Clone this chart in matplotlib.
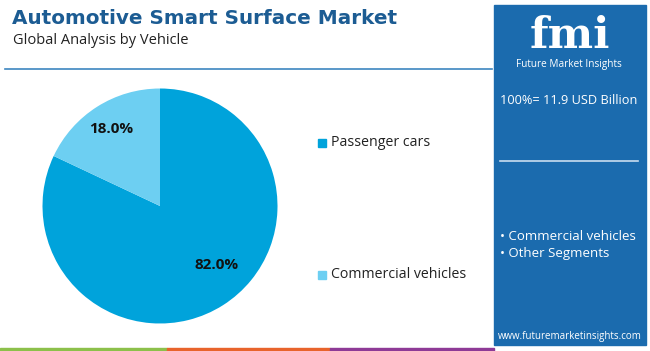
import matplotlib
matplotlib.use("Agg")
import matplotlib.pyplot as plt
from matplotlib.patches import Rectangle

# data
segments = ["Passenger cars", "Commercial vehicles"]
shares = [82.0, 18.0]
colors = ["#00A3DB", "#6DCFF2"]
title = "Automotive Smart Surface Market"
subtitle = "Global Analysis by Vehicle"
total_text = "100%= 11.9 USD Billion"
other_items = ["Commercial vehicles", "Other Segments"]

W, H = 650, 351
fig = plt.figure(figsize=(W / 100, H / 100), dpi=100)
fig.patch.set_facecolor("white")


def fx(px):
    return px / W


def fy(py):
    return 1 - py / H


plt.rcParams["font.family"] = ["Open Sans", "DejaVu Sans"]

# header
fig.text(fx(12), fy(18), title, fontsize=14.4, fontweight="bold",
         color="#1C5C93", va="center", ha="left", family="DejaVu Sans")
fig.text(fx(13), fy(40), subtitle, fontsize=10.5, color="#222222",
         va="center", ha="left")
fig.add_artist(plt.Line2D([fx(5), fx(492)], [fy(69), fy(69)],
                          color="#3D86C0", lw=1.2))

# pie
cx, cy, r = 160, 206, 117.5
ax = fig.add_axes([fx(cx - r), fy(cy + r), (2 * r) / W, (2 * r) / H])
wedges, texts, autotexts = ax.pie(
    shares, colors=colors, startangle=90, counterclock=False,
    autopct="%.1f%%", pctdistance=0.78,
    textprops=dict(fontsize=11, fontweight="bold", color="#111111"),
)
# the big slice label sits a bit nearer its right edge in the reference
x0, y0 = autotexts[0].get_position()
autotexts[0].set_position((x0 * 1.15, y0 * 0.76))
ax.set_xlim(-1, 1)
ax.set_ylim(-1, 1)
ax.axis("off")

# legend
for i, (name, col) in enumerate(zip(segments, colors)):
    y = 143 + i * 132
    fig.add_artist(Rectangle((fx(318), fy(y + 4)), 8 / W, 8 / H,
                             color=col, transform=fig.transFigure))
    fig.text(fx(331), fy(y), name, fontsize=10.2, color="#222222",
             va="center", ha="left")

# right panel
fig.add_artist(Rectangle((fx(494), fy(345)), (646 - 494) / W, 340 / H,
                         color="#1B6BAE", transform=fig.transFigure, zorder=0))
fig.text(fx(570), fy(48), "fmi", fontsize=31, fontweight="bold",
         color="white", ha="center", va="baseline", family="DejaVu Serif")
fig.text(fx(569), fy(65), "Future Market Insights", fontsize=7.2,
         color="white", ha="center", va="center")
fig.text(fx(569), fy(101), total_text, fontsize=9.2, color="white",
         ha="center", va="center")
fig.add_artist(plt.Line2D([fx(500), fx(638)], [fy(161), fy(161)],
                          color="#C9DDF0", lw=1.2))
for i, item in enumerate(other_items):
    fig.text(fx(500), fy(236 + i * 18), "• " + item, fontsize=9.5,
             color="white", ha="left", va="center")
fig.text(fx(570), fy(337), "www.futuremarketinsights.com", fontsize=7,
         color="white", ha="center", va="center")

# bottom strip
for x0, x1, col in [(0, 167, "#8CC04A"), (167, 330, "#E8632B"),
                    (330, 494, "#8E3A96")]:
    fig.add_artist(Rectangle((fx(x0), 0), (x1 - x0) / W, 3 / H, color=col,
                             transform=fig.transFigure))

fig.savefig("out.png", dpi=100)
